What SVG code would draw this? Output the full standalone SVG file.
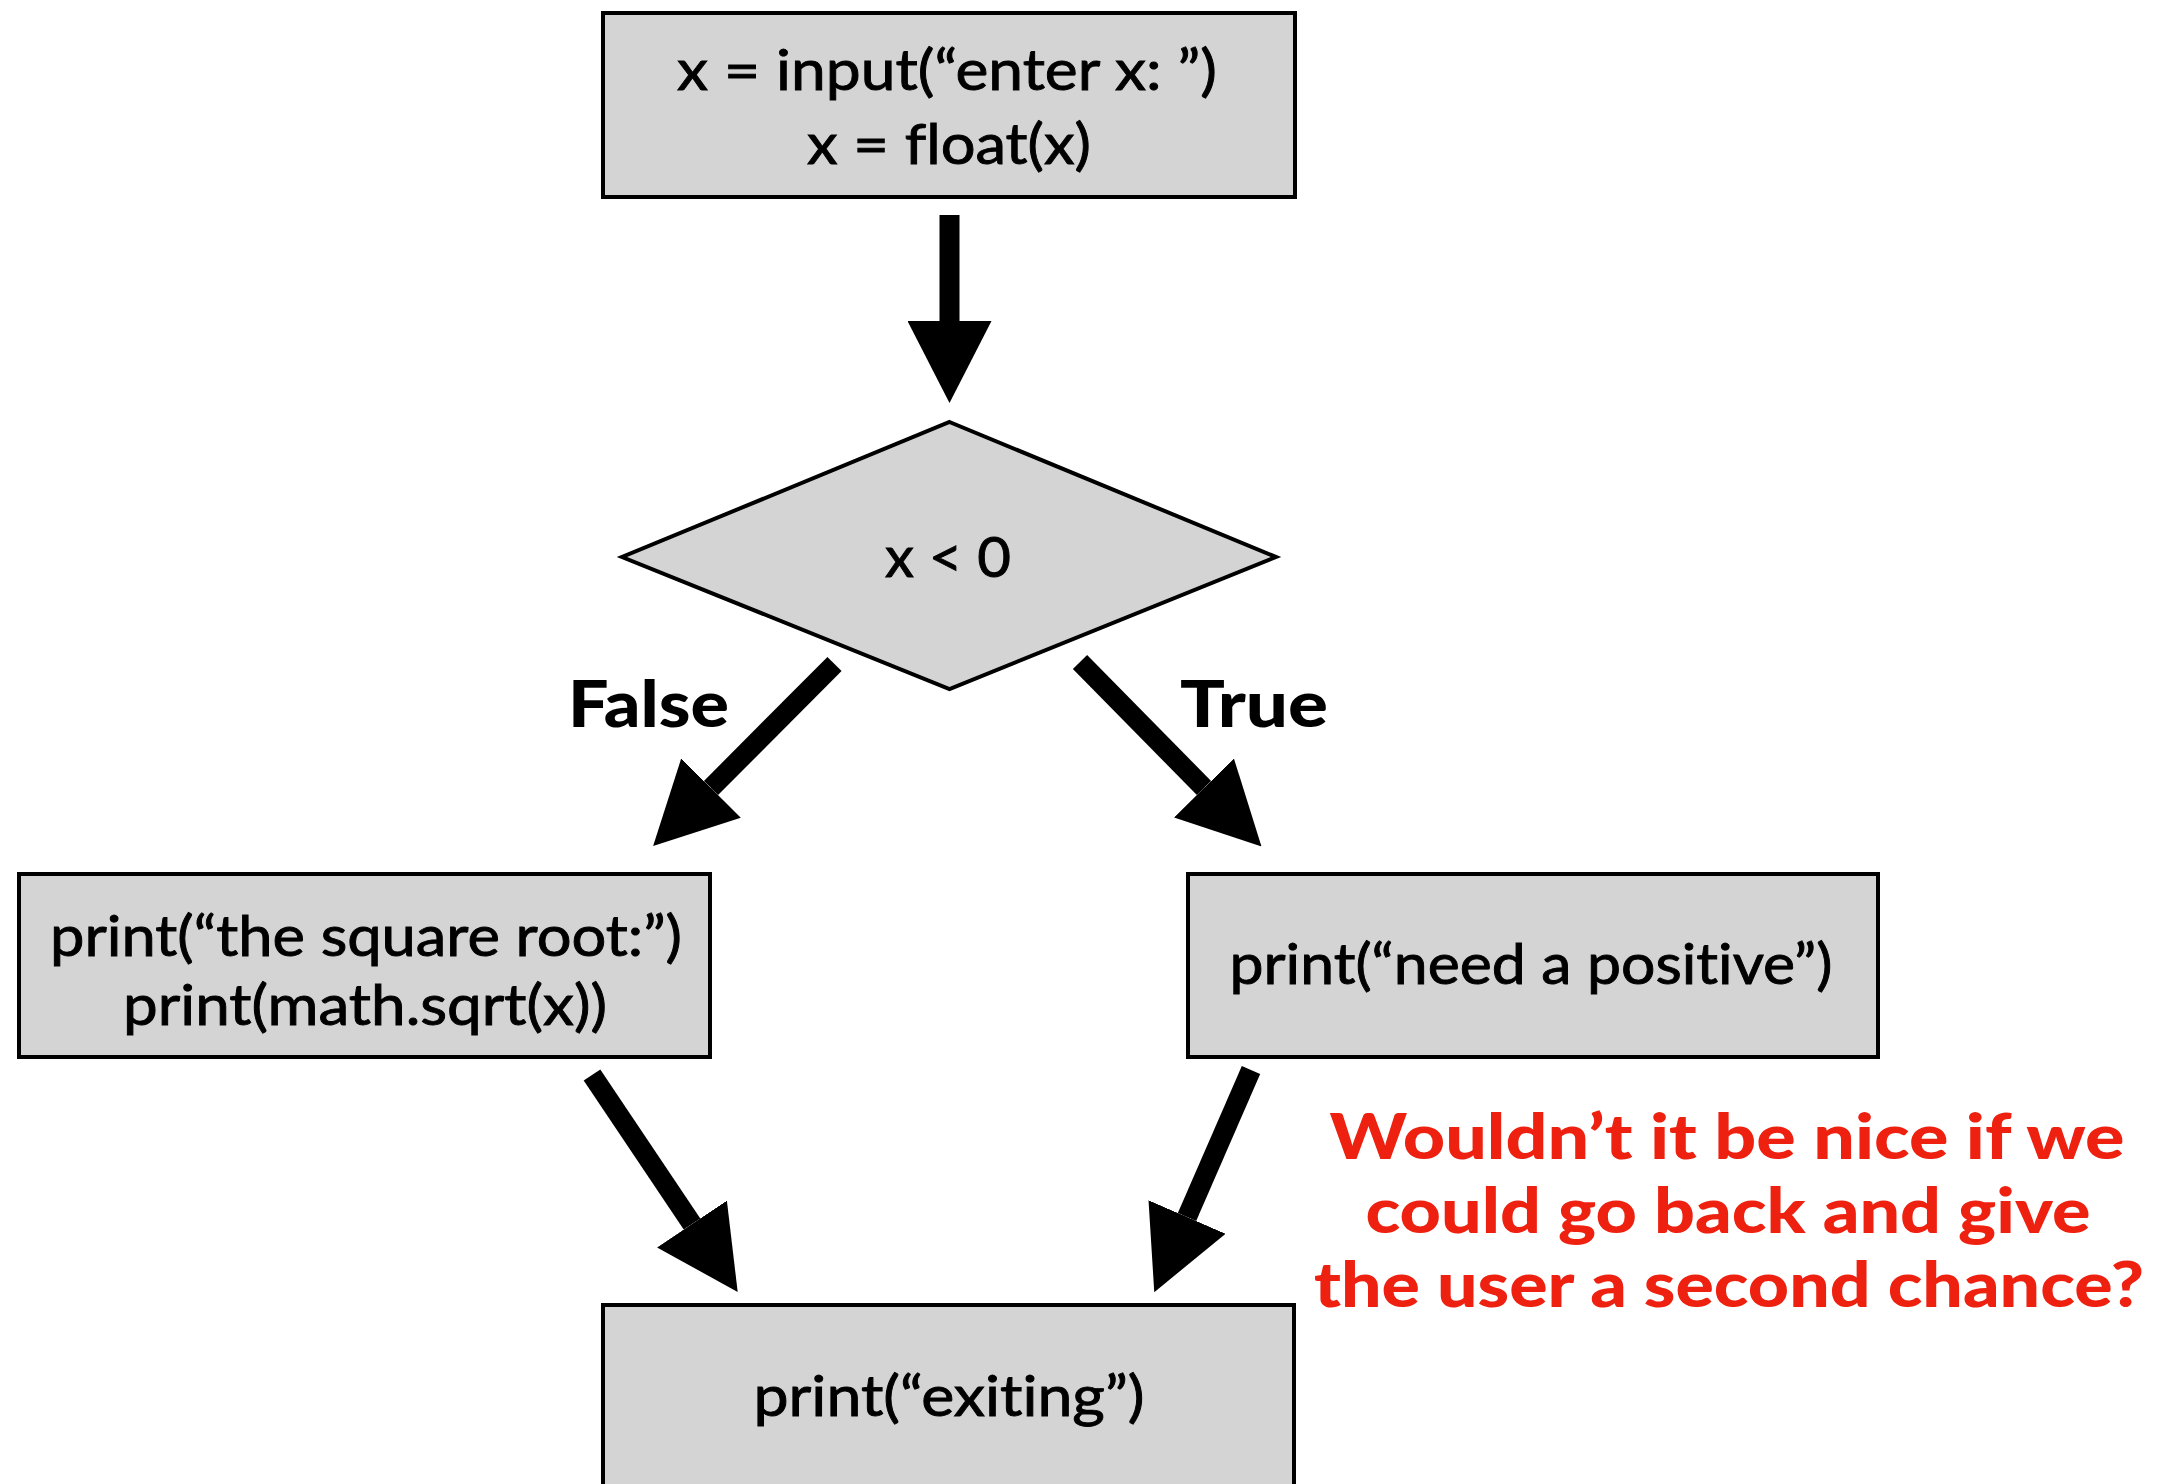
<svg xmlns="http://www.w3.org/2000/svg" width="2178" height="1484" viewBox="0 0 2178 1484">
  <style>
    .box { fill: #d4d4d4; stroke: #000; stroke-width: 4; }
    .code { font-family: Lato, "Open Sans", "Liberation Sans", sans-serif; font-size: 56px; fill: #000; stroke: #000; stroke-width: 0.9; text-anchor: middle; font-variant-ligatures: none; }
    .branch { font-family: Lato, "Liberation Sans", sans-serif; font-weight: 900; font-size: 64px; fill: #000; }
    .note { font-family: Lato, "Liberation Sans", sans-serif; font-weight: 900; font-size: 63px; fill: #ee2010; text-anchor: middle; }
    .flow { stroke: #000; stroke-width: 20; fill: none; marker-end: url(#head); }
  </style>
  <defs>
    <marker id="head" viewBox="0 0 82 84" markerWidth="82" markerHeight="84" refX="0" refY="42" markerUnits="userSpaceOnUse" orient="auto">
      <path d="M0,0 L82,42 L0,84 Z" fill="#000"/>
    </marker>
  </defs>

  <rect width="2178" height="1484" fill="#fff"/>

  <!-- flow arrows -->
  <g id="connectors">
    <line class="flow" x1="949.5" y1="215" x2="949.5" y2="321"/>
    <line class="flow" x1="834.5" y1="664" x2="711" y2="788"/>
    <line class="flow" x1="1080" y1="662" x2="1204" y2="788"/>
    <line class="flow" x1="592" y1="1075" x2="692" y2="1224"/>
    <line class="flow" x1="1251" y1="1070" x2="1187" y2="1217"/>
  </g>

  <g id="input-node">
    <rect class="box" x="603" y="13" width="692" height="184"/>
    <text class="code" x="947" y="90" textLength="540" lengthAdjust="spacingAndGlyphs">x = input(“enter x: ”)</text>
    <text class="code" x="949" y="164" textLength="284" lengthAdjust="spacingAndGlyphs">x = float(x)</text>
  </g>

  <g id="decision-node">
    <polygon class="box" points="949.5,422 1276,557 949.5,689 622,557"/>
    <text class="code" x="948" y="577" textLength="126" lengthAdjust="spacingAndGlyphs">x &lt; 0</text>
  </g>

  <g id="label-false">
    <text class="branch" x="568" y="727" textLength="161" lengthAdjust="spacingAndGlyphs">False</text>
  </g>
  <g id="label-true">
    <text class="branch" x="1180" y="727" textLength="148" lengthAdjust="spacingAndGlyphs">True</text>
  </g>

  <g id="sqrt-node">
    <rect class="box" x="19" y="874" width="691" height="183"/>
    <text class="code" x="366" y="956" textLength="632" lengthAdjust="spacingAndGlyphs">print(“the square root:”)</text>
    <text class="code" x="365" y="1025" textLength="484" lengthAdjust="spacingAndGlyphs">print(math.sqrt(x))</text>
  </g>

  <g id="positive-node">
    <rect class="box" x="1188" y="874" width="690" height="183"/>
    <text class="code" x="1531" y="984" textLength="603" lengthAdjust="spacingAndGlyphs">print(“need a positive”)</text>
  </g>

  <g id="exit-node">
    <rect class="box" x="603" y="1305" width="691" height="200"/>
    <text class="code" x="949" y="1416" textLength="391" lengthAdjust="spacingAndGlyphs">print(“exiting”)</text>
  </g>

  <g id="note">
    <text class="note" x="1727" y="1159" textLength="795" lengthAdjust="spacingAndGlyphs">Wouldn’t it be nice if we</text>
    <text class="note" x="1728" y="1233" textLength="725" lengthAdjust="spacingAndGlyphs">could go back and give</text>
    <text class="note" x="1729" y="1307" textLength="830" lengthAdjust="spacingAndGlyphs">the user a second chance?</text>
  </g>
</svg>
